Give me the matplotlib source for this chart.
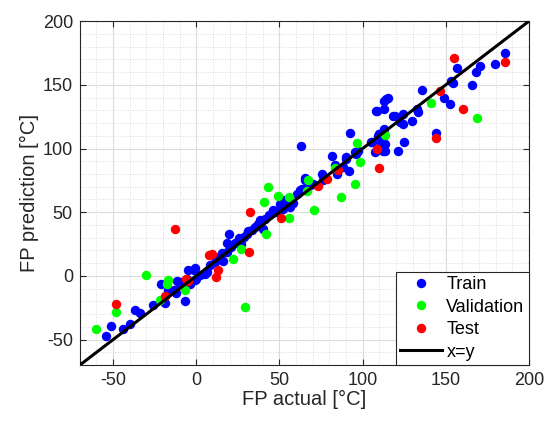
import matplotlib
matplotlib.use("Agg")
import matplotlib.pyplot as plt
from matplotlib.ticker import MultipleLocator

# FP actual / predicted values [°C]
train_x = [-54, -51, -44, -40, -37, -34, -26, -21, -19, -17, -12, -13.6, -10, -6.6, -11.6,
           -1.6, -1, -3.6, 5.4, -5, -0.6, 6.4, 19.4, 18.4, -5.6, -7.6, 0, 8.4, 11.4, 13.4,
           15.4, 18.4, 23.4, 25.4, 28.4, 30.4, 33.4, 35.4, 36.8, 38.4, 41.4, 44, 45.4, 48.4,
           52.4, 56.4, 58.4, 60.4, 62.4, 64.4, 46.4, 50.4, 53.4, 63.4, 65.4, 68.4, 75.4, 76.4,
           83.4, 84.4, 90, 92, 96, 97.4, 105.4, 109.4, 113.4, 112.4, 63, 92.4, 81.4, 113.4,
           108.4, 118.4, 113, 121, 107.4, 111, 105, 95.4, 89.8, 88.4, 85.4, 65.4, 114, 115.4,
           108, 113, 119.4, 124.4, 122.4, 129.4, 124.4, 132.4, 133.4, 135.4, 144.4, 110, 112.4,
           125, 153, 154.4, 156.8, 168.4, 170.4, 166, 149, 152.4, 179.8, 185.4, 109.8, 113,
           2.5, 21, 27, 40, 55, 70, 16, 31]
train_y = [-47, -39.6, -42, -38, -27, -29, -23, -6.5, -21, -11, -13.5, -11, -6, -19.5, -4.4,
           5, -3.5, -6, 1.6, 5, 6, 3.4, 33, 26, -2.6, -4.4, -2.6, 8.6, 11.2, 15,
           17.7, 19, 25.5, 29.4, 30.7, 32.8, 36, 38.5, 41, 43.8, 45, 47.7, 49, 50.2,
           52.9, 54.1, 57.3, 64.6, 67.2, 68.5, 51.6, 56.8, 59.4, 68.5, 75, 71, 80.2, 75,
           86.7, 80.2, 92, 82, 95.9, 98.4, 105, 110, 103.7, 98.4, 102, 112.5, 93.8, 97.7,
           129.7, 125.8, 137.5, 97.7, 97, 104, 105, 97, 93.2, 85.4, 82.8, 76.8, 138.5, 140,
           129.7, 131, 125.8, 127, 120.5, 121.9, 119.3, 131, 129, 146.3, 112, 111.5, 109,
           105, 153, 151.8, 163, 160, 164.7, 150, 139.3, 135, 166, 175.2, 111.5, 115.4,
           0.5, 23, 25, 37, 56, 72, 12, 35]

val_x = [-60, -48, -30, -22, -17, -17.7, -7, 29.4, 56, 43, 41, 49, 56, 22, 27, 42,
         96.4, 98.4, 95.4, 87, 71, 67, 66.4, 83.4, 113.4, 141.4, 169]
val_y = [-42, -28, 1, -19, -3, -6, -11, -24.7, 45.5, 70, 58, 63, 62, 13.5, 21, 33,
         104, 89.6, 72, 62, 52, 75.5, 67, 84.6, 110.7, 136, 124]

test_x = [-48, -19, -13, -5, -6, 7.4, 12, 13, 9.4, 31.4, 32.4, 51, 73, 78.4, 85.4,
          108.4, 110, 144.4, 146.4, 154.8, 160.6, 185.4]
test_y = [-22, -16, 37, -3.7, -2.6, 16.4, -1, 4.7, 17.2, 18.5, 50, 45.5, 70.3, 75.8, 83.4,
          100, 84.4, 108.4, 144.8, 171, 130.7, 168]

line_xy = [-70, 200]

plt.rcParams["font.family"] = ["Liberation Sans", "DejaVu Sans"]
plt.rcParams["axes.unicode_minus"] = False  # plain hyphen like the original

fig = plt.figure(figsize=(5.47, 4.23), dpi=100)
ax = fig.add_axes([0.146, 0.137, 0.821, 0.813])

ms = 6.8
ax.plot(train_x, train_y, "o", color=(0, 0, 1), ms=ms, mec="none", label="Train", zorder=3)
ax.plot(val_x, val_y, "o", color=(0, 1, 0), ms=ms, mec="none", label="Validation", zorder=3)
ax.plot(test_x, test_y, "o", color=(1, 0, 0), ms=ms, mec="none", label="Test", zorder=3)
ax.plot(line_xy, line_xy, "-", color="black", lw=2.2, label="x=y", zorder=4)

ax.set_xlim(-70, 200)
ax.set_ylim(-70, 200)
ax.xaxis.set_major_locator(MultipleLocator(50))
ax.yaxis.set_major_locator(MultipleLocator(50))
ax.xaxis.set_minor_locator(MultipleLocator(10))
ax.yaxis.set_minor_locator(MultipleLocator(10))
ax.grid(True, which="major", color="#dcdcdc", lw=0.8, zorder=0)
ax.grid(True, which="minor", color="#d0d0d0", lw=0.6, ls=(0, (1, 2)), zorder=0)
ax.set_axisbelow(True)
ax.tick_params(which="both", direction="in", top=True, right=True, labelsize=13,
               colors="#262626", pad=5)
ax.tick_params(which="minor", length=0)
ax.tick_params(which="major", length=4)
for s in ax.spines.values():
    s.set_color("#262626")
    s.set_linewidth(0.8)

ax.set_xlabel("FP actual [°C]", fontsize=14.5, color="#262626", labelpad=1)
ax.set_ylabel("FP prediction [°C]", fontsize=14.5, color="#262626", labelpad=3)

leg = ax.legend(loc="lower right", fontsize=13, fancybox=False, framealpha=1,
                edgecolor="#262626", borderaxespad=0, handlelength=2.3,
                handletextpad=0.25, labelspacing=0.3, borderpad=0.25)
leg.get_frame().set_linewidth(0.8)

fig.savefig("out.png", dpi=100)
